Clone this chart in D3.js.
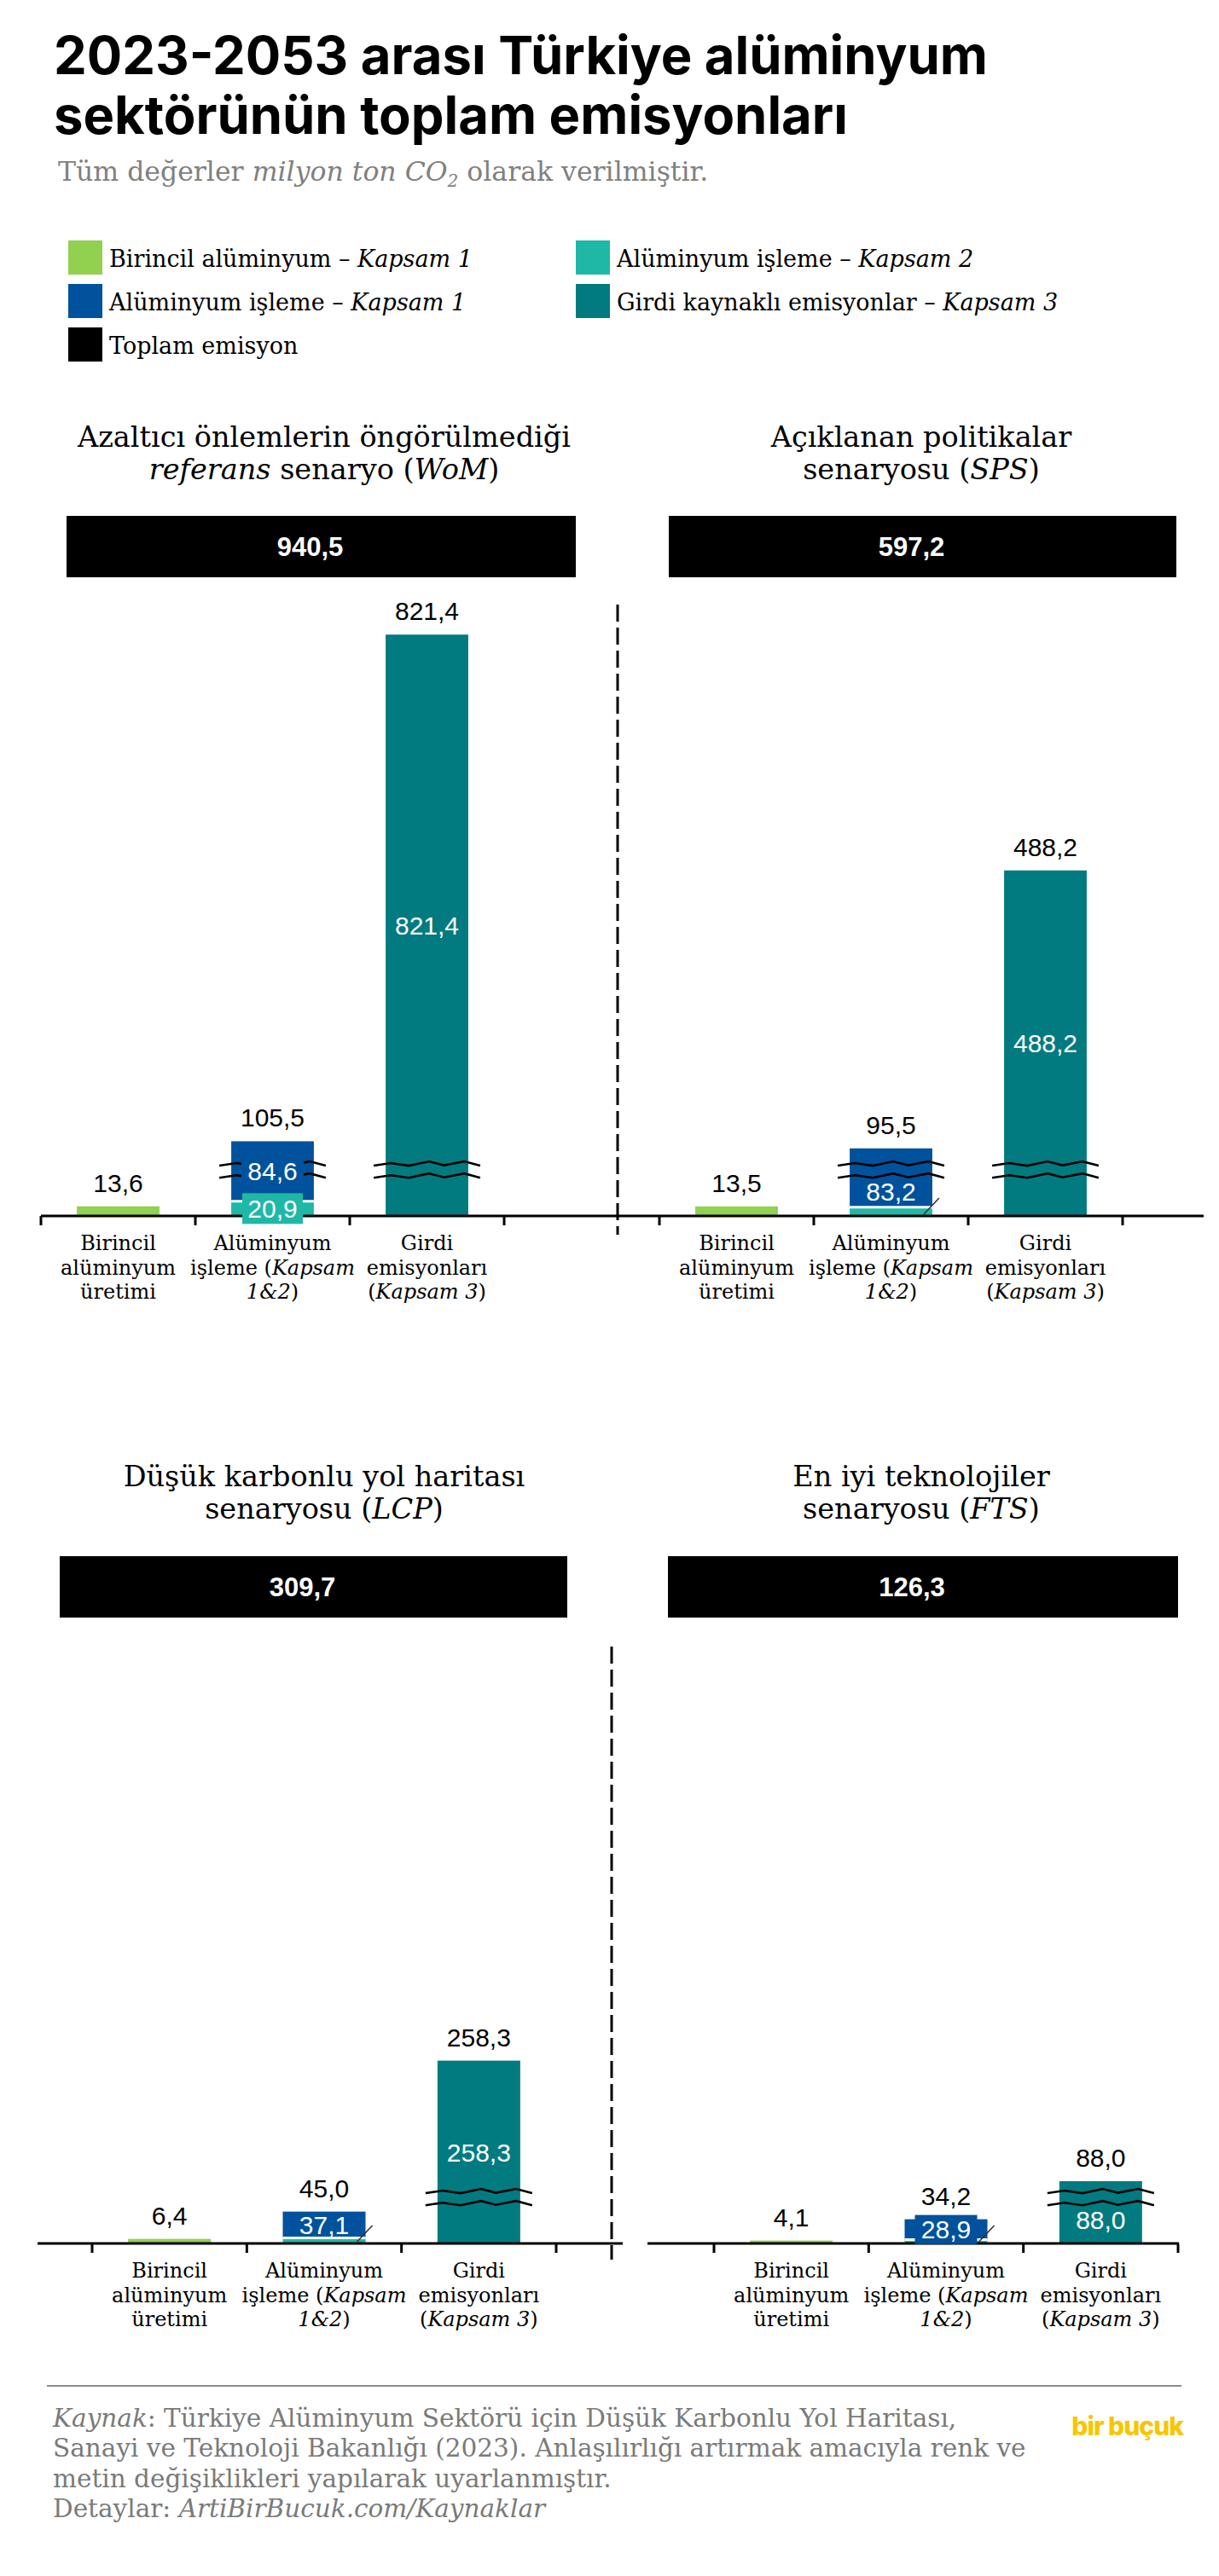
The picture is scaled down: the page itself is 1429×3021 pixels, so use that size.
<!DOCTYPE html>
<html><head><meta charset="utf-8">
<script src="https://cdn.jsdelivr.net/npm/d3@7"></script>
<style>body{margin:0;background:#fff} svg{display:block}</style>
</head><body><svg id="c" width="1429" height="3021"></svg>
<script>
// ---------------- DATA ----------------
const scenarios = ["WoM", "SPS", "LCP", "FTS"];
const totals = [940.5, 597.2, 309.7, 126.3];
const primaryScope1 = [13.6, 13.5, 6.4, 4.1];
const processingScope1 = [84.6, 83.2, 37.1, 28.9];
const processingScope2 = [20.9, 12.3, 7.9, 5.3];
const processingTotal = [105.5, 95.5, 45.0, 34.2];
const inputScope3 = [821.4, 488.2, 258.3, 88.0];
const categories = ["primary", "processing", "input"];
const categoryLabels = [
  [["Birincil"], ["alüminyum"], ["üretimi"]],
  [["Alüminyum"], ["işleme (", {i: "Kapsam"}], [{i: "1&2"}, ")"]],
  [["Girdi"], ["emisyonları"], ["(", {i: "Kapsam 3"}, ")"]]
];
const panelTitles = [
  [["Azaltıcı önlemlerin öngörülmediği"], [{i: "referans"}, " senaryo (", {i: "WoM"}, ")"]],
  [["Açıklanan politikalar"], ["senaryosu (", {i: "SPS"}, ")"]],
  [["Düşük karbonlu yol haritası"], ["senaryosu (", {i: "LCP"}, ")"]],
  [["En iyi teknolojiler"], ["senaryosu (", {i: "FTS"}, ")"]]
];
const legendLabels = [
  ["Birincil alüminyum – ", {i: "Kapsam 1"}],
  ["Alüminyum işleme – ", {i: "Kapsam 1"}],
  ["Toplam emisyon"],
  ["Alüminyum işleme – ", {i: "Kapsam 2"}],
  ["Girdi kaynaklı emisyonlar – ", {i: "Kapsam 3"}]
];
const breakValues = [57, 74]; // axis-break marks drawn at these values

// ---------------- STYLE / LAYOUT ----------------
const C = {primary: "#92D050", proc1: "#00529C", proc2: "#1FB8A6", input: "#027B80", total: "#000000"};
const legendColors = [C.primary, C.proc1, C.total, C.proc2, C.input];
const SERIF = "'DejaVu Serif', serif";
const SANS = "'Liberation Sans', Arial, sans-serif";

const layout = [
  {cx: 380, titleY: 524, box: [78, 675, 605, 677], base: 1426, band: [48, 591], axis: [48, 716],
   breaks: [false, true, true], k1Mode: "box", k2Label: true, slash: false},
  {cx: 1080, titleY: 524, box: [784, 1379, 605, 677], base: 1426, band: [773, 1316], axis: [716, 1411],
   breaks: [false, true, true], k1Mode: "below", k2Label: false, slash: true},
  {cx: 380, titleY: 1743, box: [70, 665, 1825, 1897], base: 2631, band: [108, 652], axis: [44, 730],
   breaks: [false, false, true], k1Mode: "plain", k2Label: false, slash: true},
  {cx: 1080, titleY: 1743, box: [783, 1381, 1825, 1897], base: 2631, band: [837, 1381], axis: [759, 1382],
   breaks: [false, false, true], k1Mode: "box", k2Label: false, slash: true}
];
const dividers = [{x: 724, y1: 709, y2: 1448}, {x: 717, y1: 1931, y2: 2650}];

const fmt = d3.formatLocale({decimal: ",", thousands: ".", grouping: [3], currency: ["", ""]}).format(".1f");
const svg = d3.select("#c");

function rich(sel, parts) {
  parts.forEach(p => {
    const t = sel.append("tspan").text(typeof p === "string" ? p : p.i);
    if (typeof p !== "string") t.attr("font-style", "italic");
  });
  return sel;
}

// ---------------- HEADER ----------------
["2023-2053 arası Türkiye alüminyum", "sektörünün toplam emisyonları"].forEach((t, k) => {
  svg.append("text").attr("x", 63).attr("y", 87 + k * 70).attr("font-family", "Inter, sans-serif")
    .attr("font-weight", 700).attr("font-size", 61.5).attr("fill", "#000").text(t);
});

const sub = svg.append("text").attr("x", 68).attr("y", 212).attr("font-family", SERIF)
  .attr("font-size", 31.5).attr("fill", "#808080");
sub.append("tspan").text("Tüm değerler ");
sub.append("tspan").attr("font-style", "italic").text("milyon ton CO");
sub.append("tspan").attr("font-style", "italic").attr("font-size", 20).attr("dy", 7).text("2");
sub.append("tspan").attr("dy", -7).text(" olarak verilmiştir.");

// ---------------- LEGEND ----------------
const legendPos = [[80, 282], [80, 333], [80, 384], [675, 282], [675, 333]];
legendLabels.forEach((lab, i) => {
  const [lx, ly] = legendPos[i];
  svg.append("rect").attr("x", lx).attr("y", ly).attr("width", 40).attr("height", 40).attr("fill", legendColors[i]);
  rich(svg.append("text").attr("x", lx + 48).attr("y", ly + 31).attr("font-family", SERIF)
    .attr("font-size", 27).attr("fill", "#000"), lab);
});

// ---------------- PANELS ----------------
const hScale = d3.scaleLinear().domain([0, 1000]).range([0, 830]);
const zigzag = [[0, 0], [0.16, -0.6], [0.33, 0], [0.52, -1], [0.66, -0.1], [0.85, -1], [1, 0]];
const line = d3.line();

scenarios.forEach((s, p) => {
  const L = layout[p];
  const g = svg.append("g").attr("class", "panel-" + s);
  const x = d3.scaleBand().domain(categories).range(L.band);
  const bw = x.bandwidth() * 0.535;
  const bx = c => x(c) + (x.bandwidth() - bw) / 2;
  const y = v => L.base - hScale(v);

  // title
  panelTitles[p].forEach((ln, k) => {
    rich(g.append("text").attr("x", L.cx).attr("y", L.titleY + k * 38).attr("text-anchor", "middle")
      .attr("font-family", SERIF).attr("font-size", 33.5).attr("fill", "#000"), ln);
  });

  // total box
  g.append("rect").attr("x", L.box[0]).attr("y", L.box[2]).attr("width", L.box[1] - L.box[0])
    .attr("height", L.box[3] - L.box[2]).attr("fill", C.total);
  g.append("text").attr("x", (L.box[0] + L.box[1]) / 2 - 13).attr("y", (L.box[2] + L.box[3]) / 2 + 11)
    .attr("text-anchor", "middle").attr("font-family", SANS).attr("font-weight", 700)
    .attr("font-size", 31).attr("fill", "#fff").text(fmt(totals[p]));

  // bars
  const k1 = processingScope1[p], k2 = processingScope2[p], kt = processingTotal[p];
  g.append("rect").attr("x", bx("primary")).attr("width", bw)
    .attr("y", y(primaryScope1[p])).attr("height", hScale(primaryScope1[p])).attr("fill", C.primary);
  g.append("rect").attr("x", bx("processing")).attr("width", bw)
    .attr("y", y(k2)).attr("height", hScale(k2)).attr("fill", C.proc2);
  g.append("rect").attr("x", bx("processing")).attr("width", bw)
    .attr("y", y(kt)).attr("height", hScale(kt) - hScale(k2)).attr("fill", C.proc1);
  g.append("line").attr("x1", bx("processing")).attr("x2", bx("processing") + bw)
    .attr("y1", y(k2)).attr("y2", y(k2)).attr("stroke", "#fff").attr("stroke-width", 3);
  g.append("rect").attr("x", bx("input")).attr("width", bw)
    .attr("y", y(inputScope3[p])).attr("height", hScale(inputScope3[p])).attr("fill", C.input);

  // break marks
  categories.forEach((c, ci) => {
    if (!L.breaks[ci]) return;
    breakValues.forEach(bv => {
      const yy = y(bv) + 2.5, x0 = bx(c) - 14, w = bw + 28;
      g.append("path").attr("d", line(zigzag.map(q => [x0 + q[0] * w, yy + q[1] * 5])))
        .attr("fill", "none").attr("stroke", "#000").attr("stroke-width", 2.6);
    });
  });

  // slash mark on the small scope-2 segment
  if (L.slash) {
    const r = bx("processing") + bw;
    g.append("line").attr("x1", r - 10).attr("y1", L.base - 2).attr("x2", r + 8).attr("y2", L.base - 21)
      .attr("stroke", "#333").attr("stroke-width", 1.6);
  }

  // axis
  g.append("line").attr("x1", L.axis[0]).attr("x2", L.axis[1]).attr("y1", L.base).attr("y2", L.base)
    .attr("stroke", "#000").attr("stroke-width", 3.2);
  d3.range(categories.length + 1).forEach(i => {
    const tx = x.range()[0] + i * x.step();
    g.append("line").attr("x1", tx).attr("x2", tx).attr("y1", L.base).attr("y2", L.base + 11)
      .attr("stroke", "#000").attr("stroke-width", 3);
  });

  // category labels
  categories.forEach((c, ci) => {
    categoryLabels[ci].forEach((ln, k) => {
      rich(g.append("text").attr("x", x(c) + x.bandwidth() / 2).attr("y", L.base + 40 + k * 28.7)
        .attr("text-anchor", "middle").attr("font-family", SERIF).attr("font-size", 24)
        .attr("fill", "#000"), ln);
    });
  });

  // value labels
  const FS = 30, capShift = FS * 0.358;
  const valLabel = (cx, cy, v, color, boxFill, bwid, bh) => {
    if (boxFill) g.append("rect").attr("x", cx - bwid / 2).attr("y", cy - bh / 2)
      .attr("width", bwid).attr("height", bh).attr("fill", boxFill);
    g.append("text").attr("x", cx).attr("y", cy + capShift).attr("text-anchor", "middle")
      .attr("font-family", SANS).attr("font-size", FS).attr("fill", color).text(fmt(v));
  };
  const topLabel = (c, v) => g.append("text").attr("x", bx(c) + bw / 2).attr("y", y(v) - 17)
    .attr("text-anchor", "middle").attr("font-family", SANS).attr("font-size", FS).attr("fill", "#000").text(fmt(v));

  topLabel("primary", primaryScope1[p]);
  topLabel("processing", kt);
  topLabel("input", inputScope3[p]);

  const pcx = bx("processing") + bw / 2;
  let k1c;
  if (L.k1Mode === "below") k1c = L.base - (hScale(k2) + hScale(breakValues[0])) / 2;
  else k1c = L.base - (hScale(k2) + hScale(kt)) / 2;
  if (L.k1Mode === "box") valLabel(pcx, k1c, k1, "#fff", C.proc1, 73, 34);
  else valLabel(pcx, k1c, k1, "#fff");
  if (L.k2Label) valLabel(pcx, L.base - hScale(k2) / 2, k2, "#fff", C.proc2, 71, 36);

  const v3 = inputScope3[p];
  let c3 = L.base - hScale(v3) / 2;
  const bandLo = L.base - hScale(breakValues[1]) - 6, bandHi = L.base - hScale(breakValues[0]) + 6;
  if (c3 + 11 > bandLo && c3 - 11 < bandHi) c3 = L.base - hScale(breakValues[0]) / 2 - 4;
  valLabel(bx("input") + bw / 2, c3, v3, "#fff");
});

// dividers
dividers.forEach(d => {
  svg.append("line").attr("x1", d.x).attr("x2", d.x).attr("y1", d.y1).attr("y2", d.y2)
    .attr("stroke", "#000").attr("stroke-width", 3).attr("stroke-dasharray", "20 7");
});

// ---------------- FOOTER ----------------
svg.append("line").attr("x1", 55).attr("x2", 1385).attr("y1", 2798).attr("y2", 2798)
  .attr("stroke", "#8c8c8c").attr("stroke-width", 2);
const footer = [
  [{i: "Kaynak"}, ": Türkiye Alüminyum Sektörü için Düşük Karbonlu Yol Haritası,"],
  ["Sanayi ve Teknoloji Bakanlığı (2023). Anlaşılırlığı artırmak amacıyla renk ve"],
  ["metin değişiklikleri yapılarak uyarlanmıştır."],
  ["Detaylar: ", {i: "ArtiBirBucuk.com/Kaynaklar"}]
];
footer.forEach((ln, k) => {
  rich(svg.append("text").attr("x", 62).attr("y", 2846 + k * 35.3).attr("font-family", SERIF)
    .attr("font-size", 29.5).attr("fill", "#7a7a7a"), ln);
});
svg.append("text").attr("x", 1387).attr("y", 2856).attr("text-anchor", "end")
  .attr("font-family", "Inter, sans-serif").attr("font-weight", 800).attr("font-size", 30)
  .attr("letter-spacing", -1).attr("fill", "#F7C600").text("bir buçuk");
</script></body></html>
